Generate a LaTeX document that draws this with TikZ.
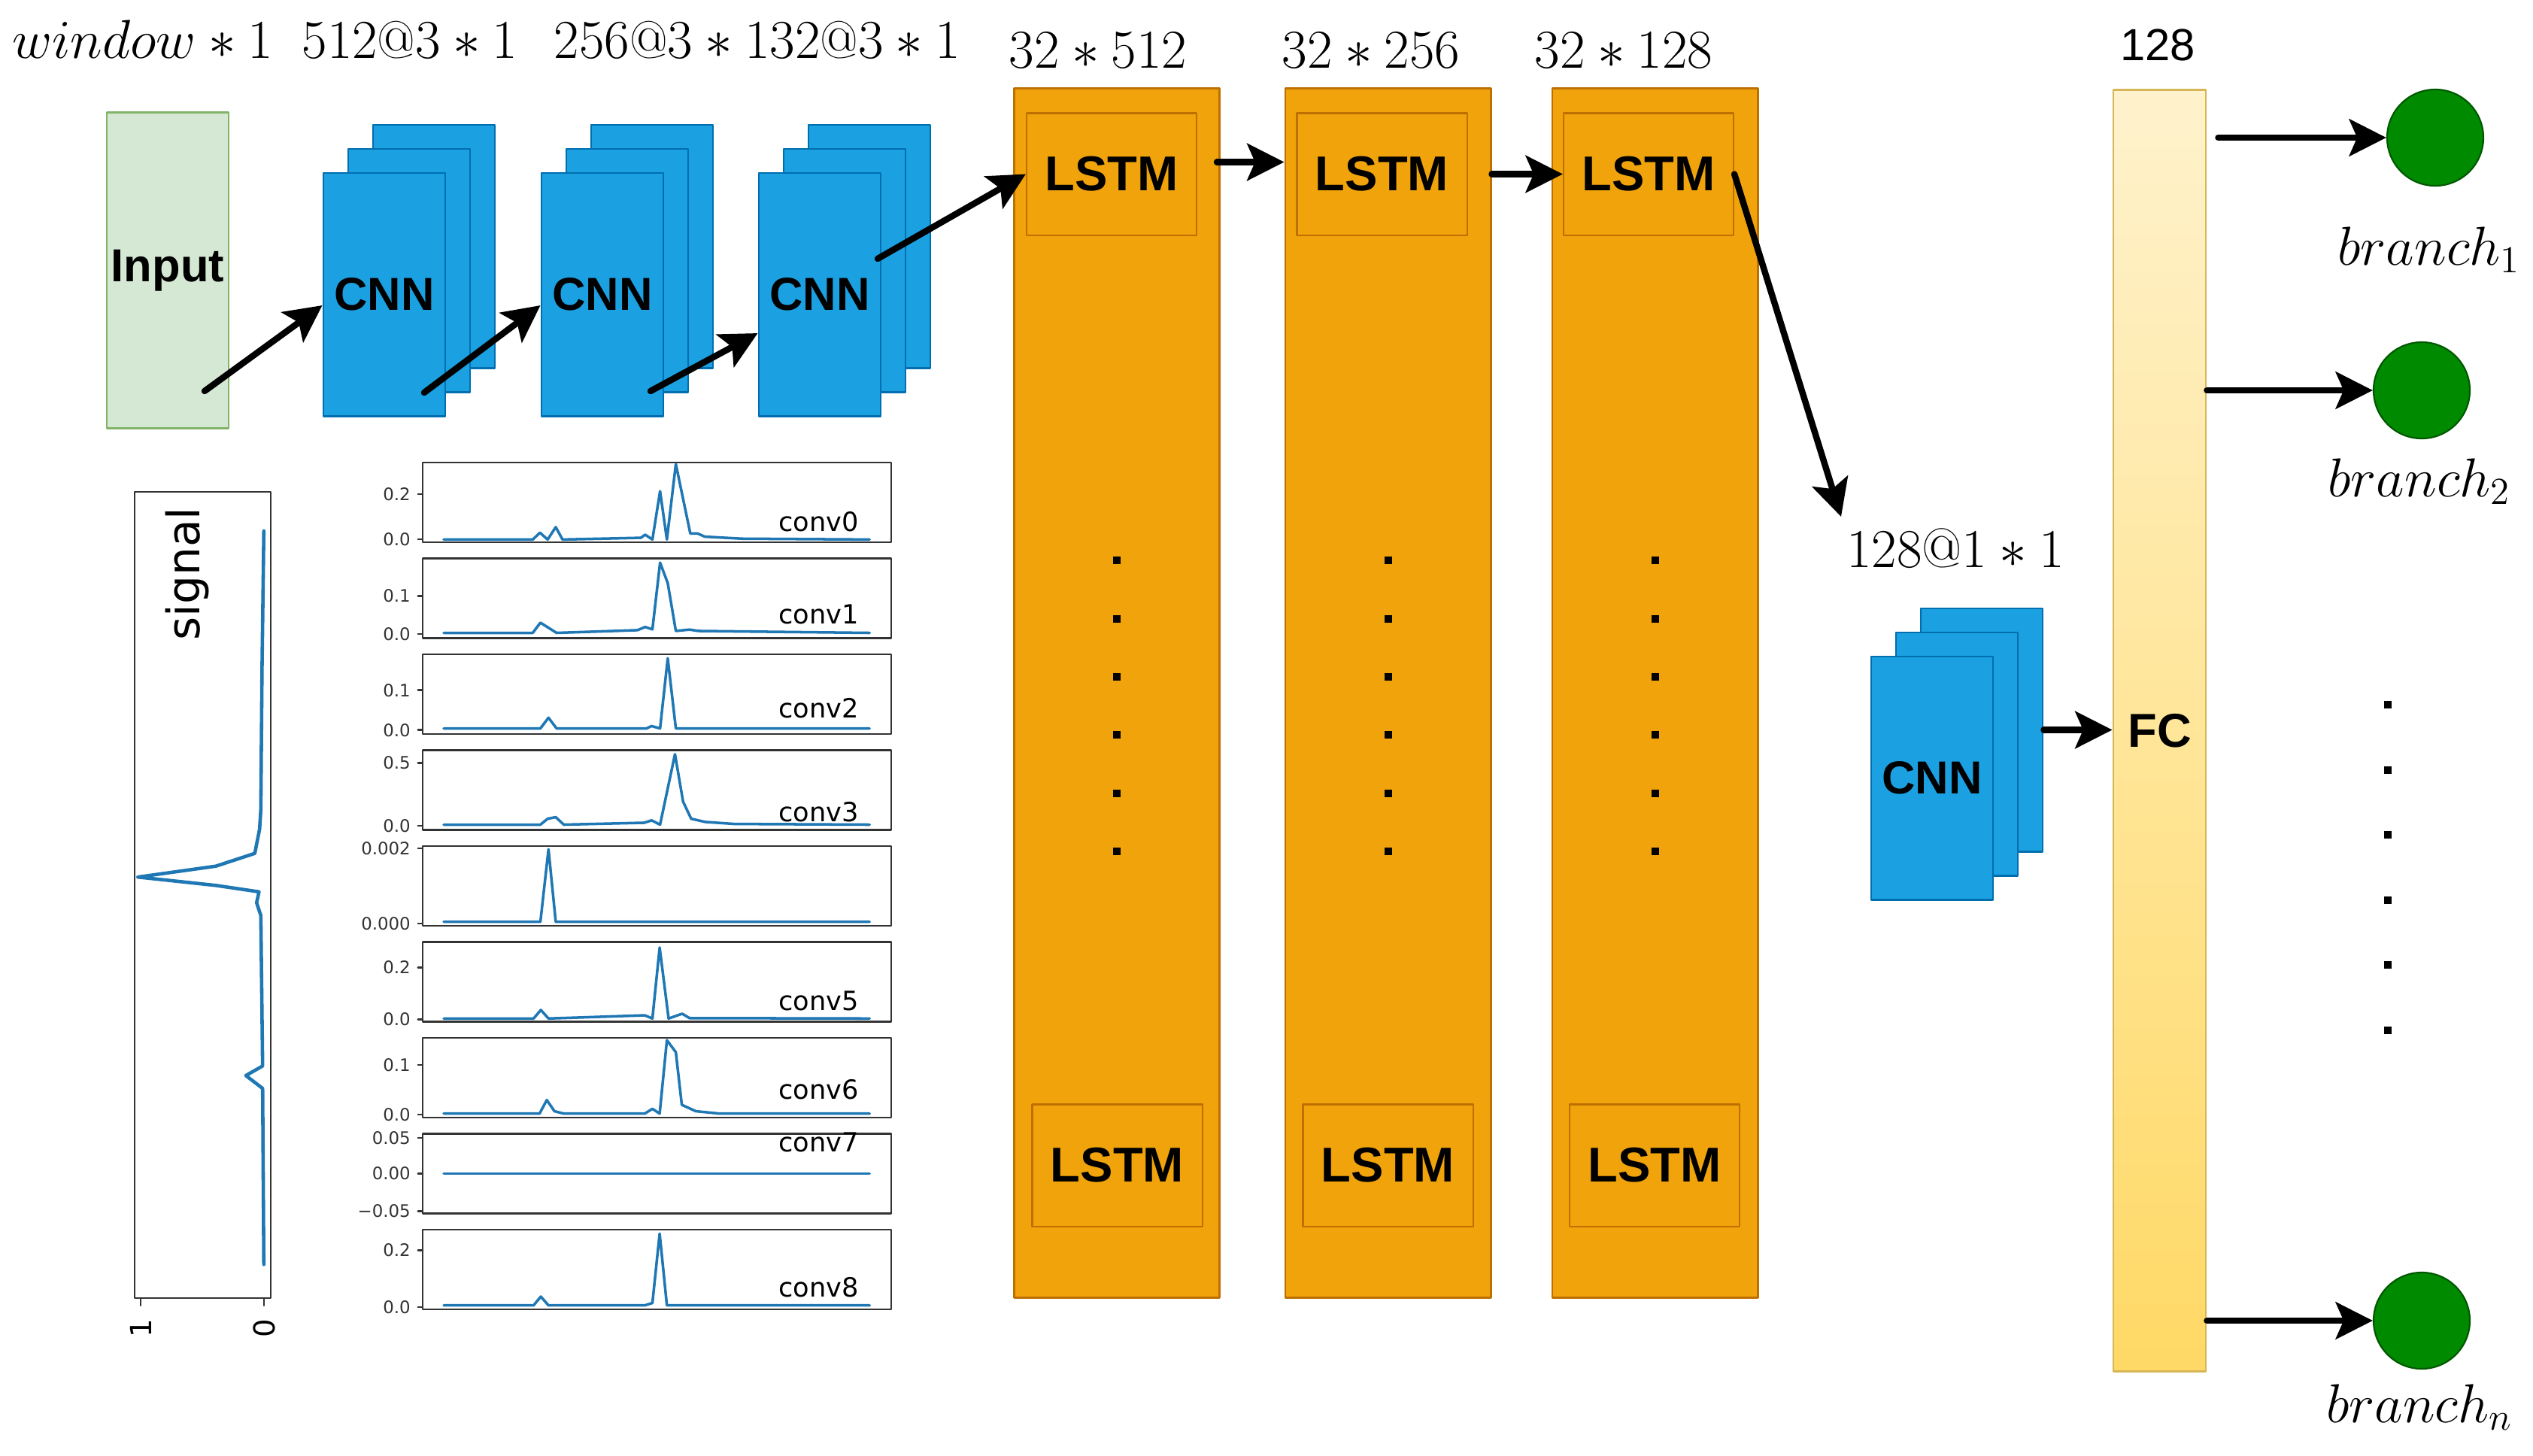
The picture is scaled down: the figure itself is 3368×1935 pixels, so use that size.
\documentclass[tikz,border=0pt]{standalone}
\usepackage{fontspec}
\usetikzlibrary{arrows.meta,calc,positioning}

\newfontfamily\boxfont{Liberation Sans}
\newfontfamily\plotfont{DejaVu Sans}

\definecolor{inputfill}{HTML}{D5E8D4}
\definecolor{inputline}{HTML}{82B366}
\definecolor{cnnfill}{HTML}{1BA1E2}
\definecolor{cnnline}{HTML}{006EAF}
\definecolor{lstmfill}{HTML}{F0A30A}
\definecolor{lstmline}{HTML}{BD7000}
\definecolor{fctop}{HTML}{FFF2CC}
\definecolor{fcbottom}{HTML}{FFD966}
\definecolor{fcline}{HTML}{D6B656}
\definecolor{outfill}{HTML}{008A00}
\definecolor{outline}{HTML}{005700}
\definecolor{plotblue}{HTML}{1F77B4}

\tikzset{
  inbox/.style={draw=inputline, fill=inputfill, line width=0.8pt, inner sep=0pt, minimum width=1.62cm, minimum height=4.19cm, font=\boxfont\bfseries\fontsize{17.5}{20}\selectfont},
  cnnbox/.style={draw=cnnline, fill=cnnfill, line width=0.8pt, minimum width=1.62cm, minimum height=3.23cm, font=\boxfont\bfseries\fontsize{17.5}{20}\selectfont},
  lstmcol/.style={draw=lstmline, fill=lstmfill, line width=0.8pt, minimum width=2.73cm, minimum height=16.07cm},
  lstmcell/.style={draw=lstmline, line width=0.6pt, minimum width=2.26cm, minimum height=1.62cm, font=\boxfont\bfseries\fontsize{18.5}{20}\selectfont},
  fcbox/.style={draw=fcline, top color=fctop, bottom color=fcbottom, line width=0.8pt, minimum width=1.23cm, minimum height=17.03cm, font=\boxfont\bfseries\fontsize{18}{20}\selectfont},
  outnode/.style={circle, draw=outline, fill=outfill, line width=0.6pt, minimum size=1.28cm, inner sep=0pt},
  mathlbl/.style={anchor=base, inner sep=0pt, font=\fontsize{20}{24}\selectfont},
  flow/.style={->, line width=2.4pt},
  plotframe/.style={draw=black!80, line width=0.7pt},
  plotline/.style={plotblue, line width=1pt},
  ticklbl/.style={anchor=east, inner sep=2.5pt, text=black!80, font=\plotfont\fontsize{6.5}{7}\selectfont},
  convlbl/.style={inner sep=0pt, font=\plotfont\fontsize{10}{12}\selectfont},
}

% pile de cartes CNN : #1 nom, (#2,#3) centre de la carte avant
\newcommand{\cnnstack}[3]{%
  \node[cnnbox] (#1c) at (#2+66,#3-64) {};
  \node[cnnbox] (#1b) at (#2+33,#3-32) {};
  \node[cnnbox] (#1) at (#2,#3) {CNN};}

% une courbe conv : #1 nom, #2 haut, #3 trace, #4 graduations, #5 etiquette
\newcommand{\convpanel}[5]{%
  \begin{scope}[shift={(590,#2+106)},x=0.0566cm,y=1.06cm]
    \draw[plotframe] (-4.95,0) rectangle (105.1,1);
    \draw[plotline] #3;
    \foreach \v/\f [count=\i] in {#4}{\draw[plotframe] (-4.95,\f) -- ++(-1.1,0) node[ticklbl] (#1t\i) {\v};}
    #5
  \end{scope}}

\begin{document}
\begin{tikzpicture}[line cap=round,line join=round,>={Stealth[length=14pt,width=14pt,inset=3pt]},x=0.01cm,y=-0.01cm]
		\useasboundingbox (0,0) rectangle (3368,1935);
		% Entree
		\node[inbox] (input) at (223,359.5) {Input};
		% Convolutions
		\cnnstack{cnn1}{511}{391.5}
		\cnnstack{cnn2}{801}{391.5}
		\cnnstack{cnn3}{1090}{391.5}
		\node[mathlbl] (lwin) at (190,77) {$window*1$};
		\node[mathlbl] (l512) at (545,77) {$512@3*1$};
		\node[mathlbl] (l256) at (1007,77) {$256@3*132@3*1$};
		% LSTM
		\node[lstmcol] (colA) at (1485,921.5) {};
		\node[lstmcol] (colB) at (1845.5,921.5) {};
		\node[lstmcol] (colC) at (2200.5,921.5) {};
		\node[lstmcell] (lstmA) at (1478,231.5) {LSTM};
		\node[lstmcell] (lstmB) at (1837.5,231.5) {LSTM};
		\node[lstmcell] (lstmC) at (2192,231.5) {LSTM};
		\node[lstmcell] (lstmAn) at (1485.5,1549.5) {LSTM};
		\node[lstmcell] (lstmBn) at (1845.5,1549.5) {LSTM};
		\node[lstmcell] (lstmCn) at (2200,1549.5) {LSTM};
		\node[mathlbl] (l32a) at (1460,90) {$32*512$};
		\node[mathlbl] (l32b) at (1823,90) {$32*256$};
		\node[mathlbl] (l32c) at (2159,90) {$32*128$};
		\foreach \c in {colA,colB,colC}{\foreach \k in {0,...,5}{\fill ($(\c.north)+(-5,624+77.4*\k)$) rectangle ++(10,10);}}
		% CNN final et FC
		\cnnstack{cnn4}{2569}{1034.5}
		\node[mathlbl, font=\fontsize{21}{24}\selectfont] (l128) at (2600,754) {$128@1*1$};
		\node[fcbox] (fc) at (2871.5,971.5) {FC};
		\node[anchor=base, inner sep=0pt, font=\boxfont\fontsize{17}{20}\selectfont] (lfc) at (2869,80) {128};
		% Sorties
		\node[outnode] (out1) at (3238,183) {};
		\node[outnode] (out2) at (3220,519) {};
		\node[outnode] (outn) at (3220,1756) {};
		\node[mathlbl, font=\fontsize{21}{24}\selectfont] (b1) at (3230,352) {$branch_1$};
		\node[mathlbl, font=\fontsize{21}{24}\selectfont] (b2) at (3217,660) {$branch_2$};
		\node[mathlbl, font=\fontsize{21}{24}\selectfont] (bn) at (3217,1891) {$branch_n$};
		\foreach \k in {0,...,5}{\fill (3170,932+86.5*\k) rectangle ++(10,10);}
		% fleches
		\coordinate (in-out) at (272,520);
		\coordinate (c1-out) at (564,522);
		\coordinate (c2-out) at (865,520);
		\coordinate (c3-out) at (1167,344);
		\coordinate (c4-in) at (2448,687);
		\draw[flow] (in-out) -- (cnn1.190);
		\draw[flow] (c1-out) -- (cnn2.190);
		\draw[flow] (c2-out) -- (cnn3.212);
		\draw[flow] (c3-out) -- (lstmA.west);
		\draw[flow] ($(colA.east |- lstmA)+(-5,-16)$) -- ($(colB.west |- lstmA)+(0,-16)$);
		\draw[flow] (colB.east |- lstmB) -- (lstmC.west);
		\draw[flow] (lstmC.east) -- (c4-in);
		\draw[flow] (cnn4c.east) -- (fc.west |- cnn4c.east);
		\draw[flow] ($(fc.east |- out1)+(15,0)$) -- (out1);
		\draw[flow] (fc.east |- out2) -- (out2);
		\draw[flow] (fc.east |- outn) -- (outn);
		% signal
		\draw[plotframe] (179,654) rectangle (360,1726);
		\draw[plotline, line width=1.3pt] (350.8,706) -- (348.4,889.5) -- (346.8,1076.8) -- (345.2,1102.3) -- (338.8,1134.7) -- (287,1151.7) -- (183.4,1166.2) -- (287,1177.3) -- (344.4,1185.8) -- (341.2,1200.3) -- (346.8,1217.3) -- (349.2,1417.4) -- (326.9,1430.1) -- (349.2,1447.2) -- (350.8,1681.3);
		\node[rotate=90, font=\plotfont\fontsize{17}{20}\selectfont] (lsig) at (249,763) {signal};
		\draw[plotframe] (187,1726) -- (187,1736);
		\draw[plotframe] (351,1726) -- (351,1736);
		\node[rotate=90, font=\plotfont\fontsize{11}{12}\selectfont] (sig1) at (187,1766) {1};
		\node[rotate=90, font=\plotfont\fontsize{11}{12}\selectfont] (sig0) at (351,1766) {0};
		% courbes conv
		\convpanel{p0}{615}{(0,0.034) -- (20.9,0.034) -- (22.6,0.12) -- (24.4,0.034) -- (26.3,0.19) -- (27.9,0.034) -- (46.3,0.056) -- (47.3,0.095) -- (49,0.034) -- (50.8,0.64) -- (52.4,0.034) -- (54.5,0.98) -- (57.9,0.11) -- (59.6,0.11) -- (61.3,0.07) -- (70,0.045) -- (100,0.034)}{0.2/0.605,0.0/0.04}{\node[convlbl] (p0l) at (88,0.26) {conv0};}
		\convpanel{p1}{742.5}{(0,0.066) -- (20.9,0.066) -- (22.7,0.194) -- (26.5,0.066) -- (45.5,0.1) -- (47.3,0.14) -- (49,0.11) -- (50.8,0.946) -- (52.6,0.69) -- (54.5,0.09) -- (57.7,0.107) -- (59.8,0.09) -- (100,0.066)}{0.1/0.53,0.0/0.05}{\node[convlbl] (p1l) at (88,0.3) {conv1};}
		\convpanel{p2}{870}{(0,0.07) -- (22.7,0.07) -- (24.6,0.205) -- (26.5,0.07) -- (47.6,0.07) -- (48.8,0.1) -- (50.8,0.07) -- (52.6,0.95) -- (54.5,0.07) -- (100,0.07)}{0.1/0.55,0.0/0.05}{\node[convlbl] (p2l) at (88,0.32) {conv2};}
		\convpanel{p3}{997.5}{(0,0.066) -- (22.7,0.066) -- (24.4,0.14) -- (26.3,0.16) -- (28.2,0.066) -- (47.1,0.09) -- (48.8,0.12) -- (50.8,0.066) -- (54.3,0.95) -- (56.2,0.355) -- (58.1,0.14) -- (61.4,0.1) -- (68.2,0.075) -- (100,0.066)}{0.5/0.84,0.0/0.05}{\node[convlbl] (p3l) at (88,0.22) {conv3};}
		\convpanel{p4}{1125}{(0,0.05) -- (22.7,0.05) -- (24.6,0.96) -- (26.3,0.05) -- (100,0.05)}{0.002/0.97,0.000/0.03}{}
		\convpanel{p5}{1252.5}{(0,0.04) -- (21.1,0.04) -- (22.8,0.147) -- (24.6,0.04) -- (47.2,0.08) -- (49,0.04) -- (50.7,0.93) -- (52.8,0.04) -- (56,0.1) -- (57.7,0.045) -- (100,0.04)}{0.2/0.68,0.0/0.03}{\node[convlbl] (p5l) at (88,0.26) {conv5};}
		\convpanel{p6}{1380}{(0,0.05) -- (22.5,0.05) -- (24.2,0.22) -- (26,0.08) -- (28.2,0.05) -- (47.2,0.05) -- (49,0.11) -- (50.7,0.05) -- (52.4,0.97) -- (54.5,0.82) -- (55.9,0.16) -- (59.2,0.08) -- (64.8,0.05) -- (100,0.05)}{0.1/0.66,0.0/0.04}{\node[convlbl] (p6l) at (88,0.35) {conv6};}
		\convpanel{p7}{1507.5}{(0,0.5) -- (100,0.5)}{0.05/0.95,0.00/0.5,−0.05/0.03}{\node[convlbl] (p7l) at (88,0.89) {conv7};}
		\convpanel{p8}{1635}{(0,0.05) -- (21.1,0.05) -- (22.8,0.16) -- (24.6,0.05) -- (47.2,0.05) -- (49,0.08) -- (50.7,0.95) -- (52.4,0.05) -- (100,0.05)}{0.2/0.74,0.0/0.03}{\node[convlbl] (p8l) at (88,0.28) {conv8};}
		\end{tikzpicture}
\end{document}
